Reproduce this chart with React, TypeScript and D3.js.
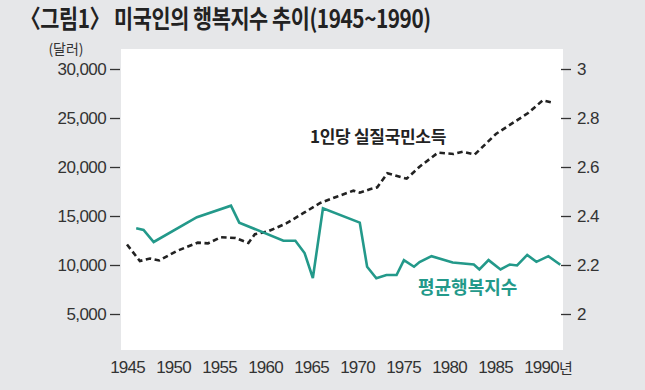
import { useEffect, useRef } from "react";
import * as d3 from "d3";

// 1인당 실질국민소득 (달러), 왼쪽 축
const incomeYears = [1945, 1946.4, 1947.5, 1948.5, 1950.4, 1952.7, 1953.8, 1955.2, 1956.8, 1958.2, 1958.9, 1960.3, 1962.3, 1964.2, 1966, 1967.8, 1969.6, 1970.3, 1971.4, 1972.2, 1973.3, 1975.4, 1976.8, 1978.8, 1980.5, 1981.5, 1982.8, 1985.1, 1988.6, 1990.2, 1991.2];
const incomeValues = [12090, 10410, 10660, 10460, 11430, 12280, 12210, 12830, 12760, 12250, 13140, 13420, 14240, 15310, 16330, 16970, 17580, 17380, 17730, 17930, 19360, 18810, 20030, 21460, 21330, 21560, 21280, 23370, 25510, 26810, 26580];

// 평균행복지수, 오른쪽 축
const happyYears = [1946, 1946.8, 1947.9, 1952.6, 1956.3, 1957.2, 1962, 1963.3, 1964.3, 1965.2, 1966.3, 1970.3, 1971.1, 1972.1, 1973.2, 1974.3, 1975.1, 1976.2, 1976.8, 1978.1, 1980.4, 1982.7, 1983.3, 1984.3, 1985.6, 1986.6, 1987.4, 1988.5, 1989.5, 1990.8, 1992.1];
const happyValues = [2.35, 2.343, 2.294, 2.395, 2.442, 2.373, 2.299, 2.299, 2.249, 2.147, 2.431, 2.373, 2.193, 2.146, 2.159, 2.159, 2.22, 2.193, 2.212, 2.236, 2.21, 2.202, 2.182, 2.22, 2.182, 2.202, 2.198, 2.241, 2.213, 2.236, 2.201];

const xTicks = [1945, 1950, 1955, 1960, 1965, 1970, 1975, 1980, 1985, 1990];
const leftTicks = [5000, 10000, 15000, 20000, 25000, 30000];
const rightTicks = [2, 2.2, 2.4, 2.6, 2.8, 3];

const TEAL = "#23998a";
const FONT = "'Liberation Sans', Arial, sans-serif";
const KFONT = "'Noto Sans CJK KR', sans-serif";

export default function App() {
  const ref = useRef<SVGSVGElement>(null);

  useEffect(() => {
    const svg = d3.select(ref.current);
    svg.selectAll("*").remove();

    const W = 645, H = 390;
    const plot = { left: 121, right: 563, top: 49, bottom: 350 };

    svg.append("rect").attr("width", W).attr("height", H).attr("fill", "#e6e7e9");
    svg.append("rect")
      .attr("x", plot.left).attr("y", plot.top)
      .attr("width", plot.right - plot.left).attr("height", plot.bottom - plot.top)
      .attr("fill", "#fff");

    // scales
    const x = d3.scaleLinear().domain([1945, 1990]).range([127, 541]);
    const yL = d3.scaleLinear().domain([5000, 30000]).range([314, 69]);
    const yR = d3.scaleLinear().domain([2, 3]).range([314, 69]);

    // title (condensed look via horizontal scale)
    svg.append("text")
      .attr("transform", "translate(20,28) scale(0.83,1)")
      .attr("font-family", KFONT).attr("font-weight", 700)
      .attr("font-size", 25).attr("fill", "#222")
      .attr("letter-spacing", -0.5)
      .text("〈그림1〉 미국인의 행복지수 추이(1945~1990)");

    svg.append("text")
      .attr("x", 66).attr("y", 54).attr("text-anchor", "middle")
      .attr("font-family", KFONT).attr("font-size", 14).attr("fill", "#333")
      .text("(달러)");

    // left axis
    const left = svg.append("g")
      .attr("transform", `translate(120,0)`)
      .call(d3.axisLeft(yL).tickValues(leftTicks).tickSize(10).tickPadding(4)
        .tickFormat(d => d3.format(",")(d as number)));
    left.select(".domain").remove();
    left.selectAll("line").attr("stroke", "#333").attr("stroke-width", 1.3);
    left.selectAll("text").attr("font-family", FONT).attr("font-size", 17)
      .attr("fill", "#333").attr("letter-spacing", -0.6);

    // right axis
    const right = svg.append("g")
      .attr("transform", `translate(561,0)`)
      .call(d3.axisRight(yR).tickValues(rightTicks).tickSize(10).tickPadding(6)
        .tickFormat(d => String(d)));
    right.select(".domain").remove();
    right.selectAll("line").attr("stroke", "#333").attr("stroke-width", 1.3);
    right.selectAll("text").attr("font-family", FONT).attr("font-size", 17)
      .attr("fill", "#333").attr("letter-spacing", -0.6);

    // bottom axis
    const bottom = svg.append("g")
      .attr("transform", `translate(0,358)`)
      .call(d3.axisBottom(x).tickValues(xTicks).tickSize(0).tickPadding(3)
        .tickFormat(d => String(d)));
    bottom.select(".domain").remove();
    bottom.selectAll("text").attr("font-family", FONT).attr("font-size", 17)
      .attr("fill", "#333").attr("letter-spacing", -0.8);

    svg.append("text")
      .attr("x", x(1990) + 18).attr("y", 374)
      .attr("font-family", KFONT).attr("font-size", 15).attr("fill", "#333")
      .text("년");

    // income line (dashed)
    const incomeLine = d3.line<number>()
      .x((_, i) => x(incomeYears[i]))
      .y(d => yL(d));
    svg.append("path")
      .datum(incomeValues)
      .attr("d", incomeLine)
      .attr("fill", "none")
      .attr("stroke", "#222")
      .attr("stroke-width", 2.6)
      .attr("stroke-dasharray", "5.5,3.5");

    // happiness line
    const happyLine = d3.line<number>()
      .x((_, i) => x(happyYears[i]))
      .y(d => yR(d));
    svg.append("path")
      .datum(happyValues)
      .attr("d", happyLine)
      .attr("fill", "none")
      .attr("stroke", TEAL)
      .attr("stroke-width", 2.6)
      .attr("stroke-linejoin", "miter");

    // labels
    svg.append("text")
      .attr("x", 310).attr("y", 143)
      .attr("font-family", KFONT).attr("font-weight", 700)
      .attr("font-size", 17).attr("fill", "#222")
      .attr("letter-spacing", -0.3)
      .text("1인당 실질국민소득");

    svg.append("text")
      .attr("x", 418).attr("y", 294)
      .attr("font-family", KFONT).attr("font-weight", 700)
      .attr("font-size", 18).attr("fill", TEAL)
      .text("평균행복지수");
  }, []);

  return (
    <svg
      ref={ref}
      width={645}
      height={390}
      style={{ position: "absolute", left: 0, top: 0, display: "block" }}
    />
  );
}
